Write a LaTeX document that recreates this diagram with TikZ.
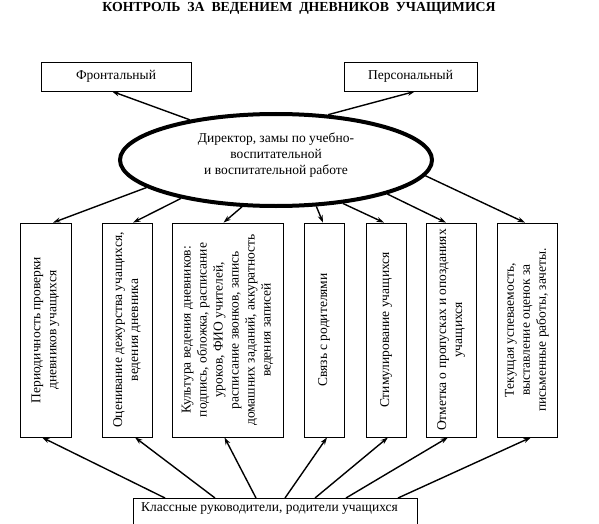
\documentclass[tikz,border=0pt]{standalone}
\usepackage{fontspec}
\setmainfont{Liberation Serif}
\usetikzlibrary{arrows.meta,shapes.geometric}
\begin{document}
\begin{tikzpicture}[x=1pt,y=-1pt,
  txt/.style={font=\fontsize{13.5}{16}\selectfont},
  box/.style={draw, line width=0.8pt, inner sep=0pt},
  vtext/.style={txt, rotate=90, align=center, inner sep=0pt},
  arr/.style={line width=1.4pt, -{Stealth[length=7.5pt,width=5pt]}},
]
\useasboundingbox (0,0) rectangle (599,524);
\clip (0,0) rectangle (599,524);
\node[font=\bfseries\fontsize{13.8}{16}\selectfont, inner sep=0pt] (title) at (299,8) {КОНТРОЛЬ\ \ ЗА\ \ ВЕДЕНИЕМ\ \ ДНЕВНИКОВ\ \ УЧАЩИМИСЯ};
\node[box, txt, minimum width=150, minimum height=29] (fr) at (116,76.5) {Фронтальный};
\node[box, txt, minimum width=133, minimum height=29] (pe) at (410.5,76.5) {Персональный};
\node[draw, ellipse, line width=4pt, minimum width=312, minimum height=92, inner sep=0pt] (ell) at (276,160) {};
\node[txt, align=center, inner sep=0pt] (dir) at (276,155) {Директор, замы по учебно-\\воспитательной\\и воспитательной работе};
% lower boxes
\node[box, minimum width=51, minimum height=214] (b1) at (45.5,330) {};
\node[box, minimum width=50, minimum height=214] (b2) at (127,330) {};
\node[box, minimum width=111, minimum height=214] (b3) at (227.5,330) {};
\node[box, minimum width=40, minimum height=214] (b4) at (324,330) {};
\node[box, minimum width=40, minimum height=214] (b5) at (386,330) {};
\node[box, minimum width=50, minimum height=214] (b6) at (451,330) {};
\node[box, minimum width=60, minimum height=214] (b7) at (527,330) {};
\node[vtext] (t1) at (b1.center) {Периодичность проверки\\дневников учащихся};
\node[vtext] (t2) at (b2.center) {Оценивание дежурства учащихся,\\ведения дневника};
\node[vtext] (t3) at (b3.center) {Культура ведения дневников:\\подпись, обложка, расписание\\уроков, ФИО учителей,\\расписание звонков, запись\\домашних заданий, аккуратность\\ведения записей};
\node[vtext] (t4) at (b4.center) {Связь с родителями};
\node[vtext] (t5) at (b5.center) {Стимулирование учащихся};
\node[vtext] (t6) at (b6.center) {Отметка о пропусках и опозданиях\\учащихся};
\node[vtext] (t7) at (b7.center) {Текущая успеваемость,\\выставление оценок за\\письменные работы, зачеты.};
\node[box, anchor=north, minimum width=284, minimum height=40] (kl) at (275,498) {};
\node[txt, inner sep=0pt] (klt) at (269.5,509) {Классные руководители, родители учащихся};
% arrows from ellipse
\draw[arr] (ell.155) -- ([xshift=-4pt]fr.south);
\draw[arr] (ell.41) -- ([xshift=4.5pt]pe.south);
\draw[arr] (ell.192) -- ([xshift=7.5pt]b1.north);
\draw[arr] (ell.202) -- ([xshift=6pt]b2.north);
\draw[arr] (ell.234) -- ([xshift=-4pt]b3.north);
\draw[arr] (ell.311) -- ([xshift=-1pt]b4.north);
\draw[arr] (ell.327) -- ([xshift=-2pt]b5.north);
\draw[arr] (ell.343) -- ([xshift=-5pt]b6.north);
\draw[arr] (ell.354) -- ([xshift=-2pt]b7.north);
% arrows from bottom box
\draw[arr] ([xshift=-110pt]kl.north) -- ([xshift=-3.5pt]b1.south);
\draw[arr] ([xshift=-60pt]kl.north) -- ([xshift=8pt]b2.south);
\draw[arr] ([xshift=-19pt]kl.north) -- ([xshift=-3pt]b3.south);
\draw[arr] ([xshift=10pt]kl.north) -- ([xshift=3pt]b4.south);
\draw[arr] ([xshift=40pt]kl.north) -- ([xshift=2pt]b5.south);
\draw[arr] ([xshift=71pt]kl.north) -- ([xshift=-3pt]b6.south);
\draw[arr] ([xshift=123pt]kl.north) -- ([xshift=4pt]b7.south);
\end{tikzpicture}
\end{document}
